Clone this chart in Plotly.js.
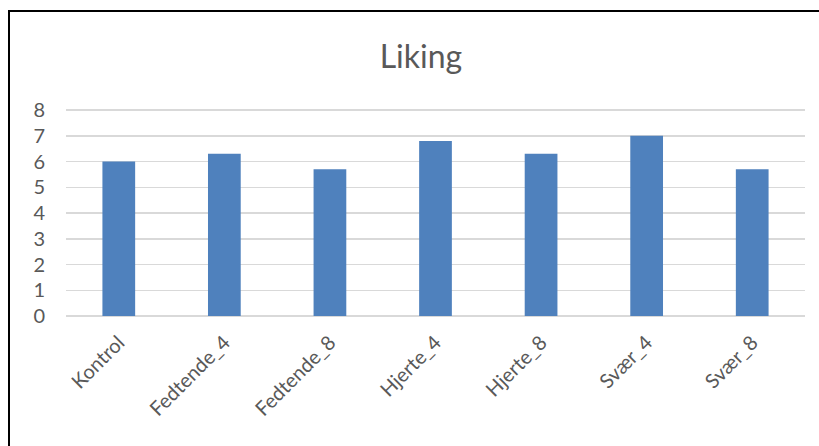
<!DOCTYPE html>
<html>
<head>
<meta charset="utf-8">
<script src="https://cdn.plot.ly/plotly-3.0.1.min.js"></script>
<style>
html, body { margin: 0; padding: 0; background: #fff; }
#wrap { position: relative; width: 819px; height: 446px; overflow: hidden; }
#frame { position: absolute; left: 8px; top: 10px; width: 820px; height: 450px; border: 2px solid #000; box-sizing: border-box; pointer-events: none; }
#chart { position: absolute; left: 0; top: 0; width: 819px; height: 446px; }
</style>
</head>
<body>
<div id="wrap">
  <div id="chart"></div>
  <div id="frame"></div>
</div>
<script>
const categories = ["Kontrol", "Fedtende_4", "Fedtende_8", "Hjerte_4", "Hjerte_8", "Svær_4", "Svær_8"];
const liking = [6.0, 6.3, 5.7, 6.8, 6.3, 7.0, 5.7];
const yTicks = [0, 1, 2, 3, 4, 5, 6, 7, 8];

const font = "Lato, 'Open Sans', 'Liberation Sans', sans-serif";

Plotly.newPlot("chart", [{
  type: "bar",
  x: categories,
  y: liking,
  marker: { color: "#4F81BD" },
  width: 0.31,
  hoverinfo: "x+y"
}], {
  width: 819,
  height: 446,
  margin: { l: 66, r: 14, t: 107, b: 130 },
  paper_bgcolor: "rgba(0,0,0,0)",
  plot_bgcolor: "rgba(0,0,0,0)",
  title: { text: "Liking", x: 0.514, xanchor: "center", y: 0.872, yanchor: "middle",
           font: { family: font, size: 32, color: "#595959" } },
  showlegend: false,
  xaxis: {
    type: "category",
    tickangle: -45,
    tickfont: { family: font, size: 20, color: "#595959" },
    showgrid: false,
    showline: false,
    ticks: "",
    zeroline: false,
    ticklabelstandoff: 10
  },
  yaxis: {
    range: [0, 8.12],
    tickvals: yTicks,
    ticktext: yTicks.map(String),
    tickfont: { family: font, size: 20, color: "#595959" },
    showgrid: true,
    gridcolor: "#d9d9d9",
    gridwidth: 1.5,
    zeroline: true,
    zerolinecolor: "#d9d9d9",
    zerolinewidth: 1.5,
    showline: false,
    ticks: "",
    ticklabelstandoff: 20
  }
}, { displayModeBar: false, staticPlot: true });
</script>
</body>
</html>
